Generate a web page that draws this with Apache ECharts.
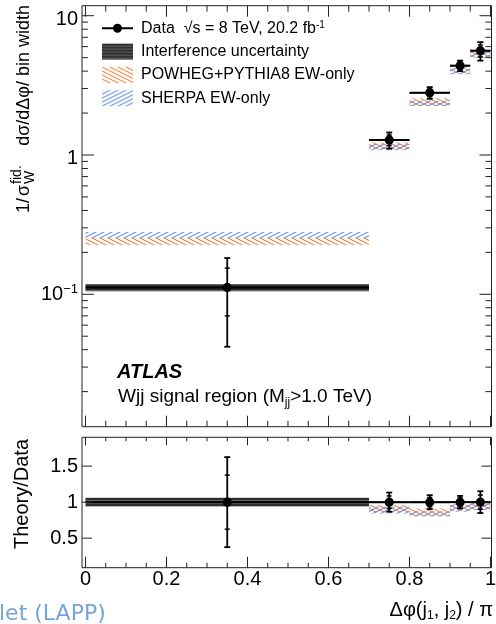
<!DOCTYPE html>
<html>
<head>
<meta charset="utf-8">
<script src="https://cdn.jsdelivr.net/npm/echarts@6/dist/echarts.min.js"></script>
<style>
html, body { margin: 0; padding: 0; background: #fff; }
#chart { width: 496px; height: 624px; }
</style>
</head>
<body>
<div id="chart"></div>
<script>
// Bins in Δφ(j1, j2) / π
const binLow = [0, 0.7, 0.8, 0.9, 0.95];
const binHigh = [0.7, 0.8, 0.9, 0.95, 1.0];
const binCenter = [0.35, 0.75, 0.85, 0.925, 0.975];

// Measured normalised differential cross-section with stat and total uncertainty
const dataValue = [0.112, 1.28, 2.80, 4.38, 5.61];
const dataStat = [0.042, 0.11, 0.18, 0.26, 0.55];
const dataTotal = [0.070, 0.17, 0.27, 0.38, 0.85];

// Relative interference uncertainty
const interfRel = [0.06, 0.012, 0.012, 0.012, 0.012];

// EW-only predictions (lower / upper edge of each band)
const powhegLow = [0.226, 1.10, 2.25, 3.85, 5.0];
const powhegHigh = [0.254, 1.23, 2.55, 4.20, 5.5];
const sherpaLow = [0.254, 1.08, 2.25, 3.80, 5.0];
const sherpaHigh = [0.280, 1.20, 2.45, 4.25, 5.6];

// Tick positions
const xMajor = [0, 0.2, 0.4, 0.6, 0.8, 1.0];
const xMinor = [0.05, 0.1, 0.15, 0.25, 0.3, 0.35, 0.45, 0.5, 0.55, 0.65, 0.7, 0.75, 0.85, 0.9, 0.95];
const yLogMajor = [0.1, 1, 10];
const yLogMinor = [0.02, 0.03, 0.04, 0.05, 0.06, 0.07, 0.08, 0.09,
                   0.2, 0.3, 0.4, 0.5, 0.6, 0.7, 0.8, 0.9,
                   2, 3, 4, 5, 6, 7, 8, 9];
const ratioMajor = [0.5, 1, 1.5];

// Axis ranges
const X_MIN = -0.00864, X_MAX = 1.0025;
const TOP_YMIN = 0.0112, TOP_YMAX = 11.8;
const R_YMIN = 0.09, R_YMAX = 1.9;

const FONT = '"Liberation Sans", Arial, Helvetica, sans-serif';
const ORANGE = '#f57f33';
const BLUE = '#5a87e8';

function makeCanvas(w, h) {
  const c = document.createElement('canvas');
  c.width = w; c.height = h;
  return c;
}

// Diagonal hatch tile; rising = "/" lines, otherwise "\" lines
function hatchPattern(color, rising) {
  const w = 8, h = 4;
  const c = makeCanvas(w, h);
  const g = c.getContext('2d');
  g.strokeStyle = color;
  g.lineWidth = 1.1;
  g.beginPath();
  for (let k = -1; k <= 1; k++) {
    if (rising) {
      g.moveTo(k * w - w, 2 * h); g.lineTo(k * w + 2 * w, -h);
    } else {
      g.moveTo(k * w - w, -h); g.lineTo(k * w + 2 * w, 2 * h);
    }
  }
  g.stroke();
  return { image: c, repeat: 'repeat' };
}

// Dark fill with faint horizontal stripes
function stripePattern() {
  const c = makeCanvas(4, 3);
  const g = c.getContext('2d');
  g.fillStyle = '#2e2e2e'; g.fillRect(0, 0, 4, 3);
  g.fillStyle = '#656565'; g.fillRect(0, 2, 4, 1);
  return { image: c, repeat: 'repeat' };
}

const powhegFill = hatchPattern(ORANGE, false);
const sherpaFill = hatchPattern(BLUE, true);
const interfFill = stripePattern();

function textWidth(str, size) {
  const g = makeCanvas(2, 2).getContext('2d');
  g.font = size + 'px ' + FONT;
  return g.measureText(str).width;
}

// ---- row builders ----
const boxRows = (lo, hi, norm) => binLow.map((l, i) => [l, binHigh[i], lo[i] / (norm ? dataValue[i] : 1), hi[i] / (norm ? dataValue[i] : 1)]);
const interfTop = binLow.map((l, i) => [l, binHigh[i], dataValue[i] * (1 - interfRel[i]), dataValue[i] * (1 + interfRel[i])]);
const interfRatio = binLow.map((l, i) => [l, binHigh[i], 1 - interfRel[i], 1 + interfRel[i]]);
const dataTop = binCenter.map((c, i) => [c, binLow[i], binHigh[i], dataValue[i],
  dataValue[i] - dataStat[i], dataValue[i] + dataStat[i],
  dataValue[i] - dataTotal[i], dataValue[i] + dataTotal[i]]);
const dataRatio = binCenter.map((c, i) => [c, binLow[i], binHigh[i], 1,
  1 - dataStat[i] / dataValue[i], 1 + dataStat[i] / dataValue[i],
  1 - dataTotal[i] / dataValue[i], 1 + dataTotal[i] / dataValue[i]]);

const ticksTop = [].concat(
  xMajor.map(v => [v, TOP_YMIN, 0]),
  xMinor.map(v => [v, TOP_YMIN, 1]),
  yLogMajor.map(v => [X_MIN, v, 2]),
  yLogMinor.map(v => [X_MIN, v, 3])
);
const ticksRatio = [].concat(
  xMajor.map(v => [v, R_YMIN, 0]),
  xMinor.map(v => [v, R_YMIN, 1]),
  ratioMajor.map(v => [X_MIN, v, 2])
);

// ---- renderers ----
function renderBox(fill) {
  return function (params, api) {
    const a = api.coord([api.value(0), api.value(3)]);
    const b = api.coord([api.value(1), api.value(2)]);
    return {
      type: 'rect',
      shape: { x: a[0], y: a[1], width: b[0] - a[0], height: b[1] - a[1] },
      style: { fill: fill, stroke: null }
    };
  };
}

function seg(x1, y1, x2, y2, w) {
  return { type: 'line', shape: { x1, y1, x2, y2 }, style: { stroke: '#000', lineWidth: w } };
}

function renderData(params, api) {
  const x = api.value(0), v = api.value(3);
  const pl = api.coord([api.value(1), v]);
  const pr = api.coord([api.value(2), v]);
  const pc = api.coord([x, v]);
  const sl = api.coord([x, api.value(4)]), sh = api.coord([x, api.value(5)]);
  const tl = api.coord([x, api.value(6)]), th = api.coord([x, api.value(7)]);
  const cx = pc[0];
  return {
    type: 'group',
    children: [
      seg(pl[0], pl[1], pr[0], pr[1], 2),
      seg(cx, tl[1], cx, th[1], 1.8),
      seg(cx - 3, th[1], cx + 3, th[1], 1.8),
      seg(cx - 3, tl[1], cx + 3, tl[1], 1.8),
      seg(cx - 2.5, sh[1], cx + 2.5, sh[1], 1.5),
      seg(cx - 2.5, sl[1], cx + 2.5, sl[1], 1.5),
      { type: 'circle', shape: { cx: cx, cy: pc[1], r: 4.6 }, style: { fill: '#000' } }
    ]
  };
}

function renderTicks(yMinV, yMaxV, lens) {
  return function (params, api) {
    const kind = api.value(2);
    const st = { stroke: '#222', lineWidth: 1 };
    if (kind < 2) {
      const v = api.value(0);
      const b = api.coord([v, yMinV]), t = api.coord([v, yMaxV]);
      const lb = lens.xb[kind], lt = lens.xt[kind];
      return { type: 'group', children: [
        { type: 'line', shape: { x1: b[0], y1: b[1], x2: b[0], y2: b[1] - lb }, style: st },
        { type: 'line', shape: { x1: t[0], y1: t[1], x2: t[0], y2: t[1] + lt }, style: st }
      ] };
    }
    const v = api.value(1);
    const l = api.coord([X_MIN, v]), r = api.coord([X_MAX, v]);
    const L = lens.y[kind - 2];
    return { type: 'group', children: [
      { type: 'line', shape: { x1: l[0], y1: l[1], x2: l[0] + L, y2: l[1] }, style: st },
      { type: 'line', shape: { x1: r[0], y1: r[1], x2: r[0] - L, y2: r[1] }, style: st }
    ] };
  };
}

// ---- y-axis title of the upper panel: 1/σ_W^fid. dσ/dΔφ/ bin width ----
const TS = 18, TSS = 14;
const TITLE_START = 213, TITLE_END = 5;           // screen y where the text begins / ends
const sigmaAt = textWidth('1/', TS) + 2;          // offset of σ along the text
const stackAt = sigmaAt + textWidth('σ', TS) + 1;  // offset of the stacked sub/superscript
const titleLen = TITLE_START - TITLE_END;

const chart = echarts.init(document.getElementById('chart'), null, { renderer: 'canvas' });

const option = {
  animation: false,
  backgroundColor: '#fff',
  grid: [
    { left: 82, right: 4.5, top: 5.7, bottom: 197.3, show: true, borderColor: '#222', borderWidth: 1,
      backgroundColor: 'transparent', containLabel: false, outerBoundsMode: 'none' },
    { left: 82, right: 4.5, top: 437.3, bottom: 56.3, show: true, borderColor: '#222', borderWidth: 1,
      backgroundColor: 'transparent', containLabel: false, outerBoundsMode: 'none' }
  ],
  xAxis: [
    { gridIndex: 0, type: 'value', min: X_MIN, max: X_MAX, show: false },
    { gridIndex: 1, type: 'value', min: X_MIN, max: X_MAX,
      axisLine: { show: false }, axisTick: { show: false }, splitLine: { show: false },
      axisLabel: { customValues: xMajor, fontSize: 20, fontFamily: FONT, color: '#000', margin: 2,
        formatter: v => String(+(+v).toFixed(2)) } }
  ],
  yAxis: [
    { gridIndex: 0, type: 'log', min: TOP_YMIN, max: TOP_YMAX,
      axisLine: { show: false }, axisTick: { show: false }, splitLine: { show: false }, minorTick: { show: false },
      axisLabel: {
        margin: 4, color: '#000', fontFamily: FONT, fontSize: 20,
        showMinLabel: false, showMaxLabel: false,
        formatter: function (v) {
          const l = Math.log10(v), r = Math.round(l);
          if (Math.abs(l - r) > 1e-6) return '';
          if (r < 0) return '{b|10}{s|−' + (-r) + '}';
          return '{p|' + Math.pow(10, r) + '}';
        },
        rich: {
          p: { fontSize: 20, fontFamily: FONT, color: '#000', padding: [7, 0, 0, 0] },
          b: { fontSize: 20, fontFamily: FONT, color: '#000' },
          s: { fontSize: 13, fontFamily: FONT, color: '#000', padding: [0, 0, 9, 0] }
        }
      } },
    { gridIndex: 1, type: 'value', min: R_YMIN, max: R_YMAX,
      axisLine: { show: false }, axisTick: { show: false }, splitLine: { show: false },
      axisLabel: { customValues: ratioMajor, fontSize: 20, fontFamily: FONT, color: '#000', margin: 4 } }
  ],
  legend: {
    orient: 'vertical', left: 102, top: 20.3, padding: 0,
    itemWidth: 31, itemHeight: 16, itemGap: 7.3, selectedMode: false,
    textStyle: { fontFamily: FONT, fontSize: 16, color: '#000', lineHeight: 16, padding: [0, 0, 0, 3],
      rich: { sup: { fontFamily: FONT, fontSize: 10, lineHeight: 10, padding: [0, 0, 6, 0] } } },
    formatter: name => name === 'Data' ? 'Data  √s = 8 TeV, 20.2 fb{sup|-1}' : name,
    data: [
      { name: 'Data', icon: 'path://M0,0L0,0M0,7L31,7L31,9L0,9ZM20,8A4.5,4.5,0,1,1,11,8A4.5,4.5,0,1,1,20,8ZM31,16L31,16',
        itemStyle: { color: '#000', borderWidth: 0 } },
      { name: 'Interference uncertainty', icon: 'rect', itemStyle: { color: interfFill, borderWidth: 0 } },
      { name: 'POWHEG+PYTHIA8 EW-only', icon: 'rect', itemStyle: { color: powhegFill, borderWidth: 0 } },
      { name: 'SHERPA EW-only', icon: 'rect', itemStyle: { color: sherpaFill, borderWidth: 0 } }
    ]
  },
  series: [
    // upper panel
    { type: 'custom', name: 'POWHEG+PYTHIA8 EW-only', xAxisIndex: 0, yAxisIndex: 0, clip: true,
      data: boxRows(powhegLow, powhegHigh, false), encode: { x: [0, 1], y: [2, 3] }, renderItem: renderBox(powhegFill) },
    { type: 'custom', name: 'SHERPA EW-only', xAxisIndex: 0, yAxisIndex: 0, clip: true,
      data: boxRows(sherpaLow, sherpaHigh, false), encode: { x: [0, 1], y: [2, 3] }, renderItem: renderBox(sherpaFill) },
    { type: 'custom', name: 'Interference uncertainty', xAxisIndex: 0, yAxisIndex: 0, clip: true,
      data: interfTop, encode: { x: [0, 1], y: [2, 3] }, renderItem: renderBox(interfFill) },
    { type: 'custom', name: 'Data', xAxisIndex: 0, yAxisIndex: 0,
      data: dataTop, encode: { x: [0, 1, 2], y: [3, 4, 5, 6, 7] }, renderItem: renderData },
    { type: 'custom', name: 'ticks-top', xAxisIndex: 0, yAxisIndex: 0, silent: true,
      data: ticksTop, encode: { x: 0, y: 1 },
      renderItem: renderTicks(TOP_YMIN, TOP_YMAX, { xb: [11, 6], xt: [11, 6], y: [12, 6] }) },
    // ratio panel
    { type: 'custom', name: 'POWHEG+PYTHIA8 EW-only', xAxisIndex: 1, yAxisIndex: 1, clip: true,
      data: boxRows(powhegLow, powhegHigh, true), encode: { x: [0, 1], y: [2, 3] }, renderItem: renderBox(powhegFill) },
    { type: 'custom', name: 'SHERPA EW-only', xAxisIndex: 1, yAxisIndex: 1, clip: true,
      data: boxRows(sherpaLow, sherpaHigh, true), encode: { x: [0, 1], y: [2, 3] }, renderItem: renderBox(sherpaFill) },
    { type: 'custom', name: 'Interference uncertainty', xAxisIndex: 1, yAxisIndex: 1, clip: true,
      data: interfRatio, encode: { x: [0, 1], y: [2, 3] }, renderItem: renderBox(interfFill) },
    { type: 'custom', name: 'Data', xAxisIndex: 1, yAxisIndex: 1,
      data: dataRatio, encode: { x: [0, 1, 2], y: [3, 4, 5, 6, 7] }, renderItem: renderData },
    { type: 'custom', name: 'ticks-ratio', xAxisIndex: 1, yAxisIndex: 1, silent: true,
      data: ticksRatio, encode: { x: 0, y: 1 },
      renderItem: renderTicks(R_YMIN, R_YMAX, { xb: [11, 5], xt: [8, 4], y: [10, 5] }) }
  ],
  graphic: [
    { type: 'text', x: 117, y: 372.7, silent: true,
      style: { text: 'ATLAS', fontFamily: FONT, fontSize: 20, fontWeight: 'bold', fontStyle: 'italic',
        fill: '#000', align: 'left', verticalAlign: 'middle' } },
    { type: 'text', x: 118, y: 396.7, silent: true,
      style: { text: '{m|Wjj signal region (M}{s|jj}{m|>1.0 TeV)}', fill: '#000', align: 'left', verticalAlign: 'middle',
        rich: { m: { fontFamily: FONT, fontSize: 19, fill: '#000' },
                s: { fontFamily: FONT, fontSize: 12, fill: '#000', padding: [11, 0, 0, 0] } } } },
    // y-axis title of the upper panel, reading bottom to top
    { type: 'group', x: 24, y: TITLE_START, rotation: Math.PI / 2, silent: true,
      children: [
        { type: 'text', x: 0, y: 0, style: { text: '1/', fontFamily: FONT, fontSize: TS, fill: '#000', align: 'left', verticalAlign: 'middle' } },
        { type: 'text', x: sigmaAt, y: 0, style: { text: 'σ', fontFamily: FONT, fontSize: TS, fill: '#000', align: 'left', verticalAlign: 'middle' } },
        { type: 'text', x: stackAt, y: -7, style: { text: 'fid.', fontFamily: FONT, fontSize: TSS, fill: '#000', align: 'left', verticalAlign: 'middle' } },
        { type: 'text', x: stackAt, y: 6, style: { text: 'W', fontFamily: FONT, fontSize: TSS, fill: '#000', align: 'left', verticalAlign: 'middle' } },
        { type: 'text', x: titleLen, y: 0, style: { text: 'dσ/dΔφ/ bin width', fontFamily: FONT, fontSize: TS, fill: '#000', align: 'right', verticalAlign: 'middle' } }
      ] },
    { type: 'text', x: 22.5, y: 494, rotation: Math.PI / 2, silent: true,
      style: { text: 'Theory/Data', fontFamily: FONT, fontSize: 20, fill: '#000', align: 'center', verticalAlign: 'middle' } },
    { type: 'text', x: 493, y: 610, silent: true,
      style: { text: '{m|Δφ(j}{s|1}{m|, j}{s|2}{m|) / π}', fill: '#000', align: 'right', verticalAlign: 'middle',
        rich: { m: { fontFamily: FONT, fontSize: 20, fill: '#000' },
                s: { fontFamily: FONT, fontSize: 12, fill: '#000', padding: [11, 0, 0, 0] } } } },
    { type: 'text', x: -1, y: 614, silent: true,
      style: { text: 'let (LAPP)', fontFamily: '"DejaVu Sans", sans-serif', fontSize: 22, fill: '#77a4d8',
        align: 'left', verticalAlign: 'middle' } }
  ]
};

chart.setOption(option);
</script>
</body>
</html>
